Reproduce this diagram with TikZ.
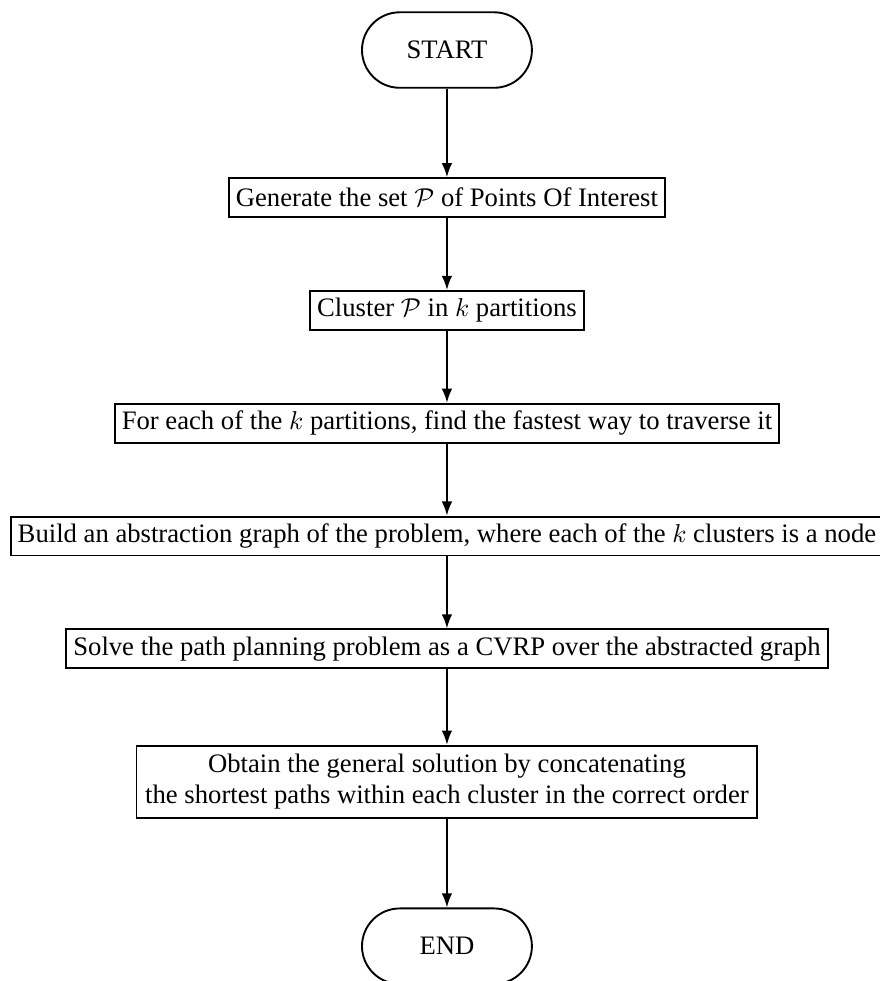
\documentclass[tikz,border=0pt]{standalone}
\usepackage{fontspec}
\setmainfont{Liberation Serif}
\usepackage{amsmath}
\usetikzlibrary{positioning, arrows.meta}

\begin{document}
\begin{tikzpicture}[
  node distance=30.5pt,
  every node/.style={font=\fontsize{11.3}{13}\selectfont},
  process/.style={draw, thick, rectangle, inner sep=3pt, minimum height=16.5pt},
  terminal/.style={draw, thick, rounded corners=16pt, minimum width=72pt, minimum height=32pt},
  flow/.style={thick, -{Latex[length=6pt, width=4.5pt]}}
]
\useasboundingbox (-189.4pt,21.2pt) rectangle (183.1pt,-394.5pt);
% Start
\node[terminal] (start) {START};
% Steps
\node[process, below=37.5pt of start] (gen) {Generate the set $\mathcal{P}$ of Points Of Interest};
\node[process, below=of gen] (cluster) {Cluster $\mathcal{P}$ in $k$ partitions};
\node[process, below=of cluster] (traverse) {For each of the $k$ partitions, find the fastest way to traverse it};
\node[process, below=of traverse] (abstract) {Build an abstraction graph of the problem, where each of the $k$ clusters is a node};
\node[process, below=of abstract] (cvrp) {Solve the path planning problem as a CVRP over the abstracted graph};
\node[process, below=32pt of cvrp, align=center, inner sep=3.7pt] (solution) {Obtain the general solution by concatenating\\the shortest paths within each cluster in the correct order};
% End
\node[terminal, below=37.5pt of solution] (end) {END};
% Arrows
\draw[flow] (start) -- (gen);
\draw[flow] (gen) -- (cluster);
\draw[flow] (cluster) -- (traverse);
\draw[flow] (traverse) -- (abstract);
\draw[flow] (abstract) -- (cvrp);
\draw[flow] (cvrp) -- (solution);
\draw[flow] (solution) -- (end);
\end{tikzpicture}
\end{document}
